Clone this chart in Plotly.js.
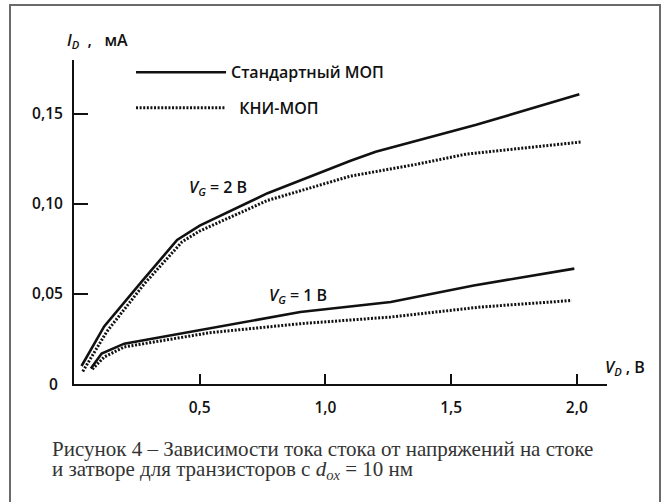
<!DOCTYPE html>
<html>
<head>
<meta charset="utf-8">
<script src="https://cdn.plot.ly/plotly-3.0.1.min.js"></script>
<style>
html,body{margin:0;padding:0;background:#fff;width:668px;height:502px;overflow:hidden;}
#frame{position:absolute;left:9px;top:4px;width:648px;height:600px;border:2px solid #6a6a6a;}
#plot{position:absolute;left:0;top:0;width:668px;height:502px;}
</style>
</head>
<body>
<div id="frame"></div>
<div id="plot"></div>
<script>
// V_G = 2 В
const xStd2 = [0.03, 0.12, 0.27, 0.41, 0.50, 0.77, 1.10, 1.20, 1.60, 2.01];
const yStd2 = [0.010, 0.032, 0.057, 0.080, 0.088, 0.106, 0.124, 0.129, 0.144, 0.161];
const xKni2 = [0.035, 0.13, 0.28, 0.43, 0.50, 0.77, 1.10, 1.36, 1.56, 2.02];
const yKni2 = [0.007, 0.029, 0.0557, 0.079, 0.085, 0.102, 0.1155, 0.122, 0.1277, 0.1345];
// V_G = 1 В
const xStd1 = [0.067, 0.11, 0.20, 0.54, 0.90, 1.26, 1.59, 1.99];
const yStd1 = [0.0086, 0.0169, 0.0224, 0.031, 0.040, 0.0456, 0.0547, 0.0641];
const xKni1 = [0.073, 0.12, 0.20, 0.54, 0.90, 1.26, 1.62, 1.98];
const yKni1 = [0.0082, 0.015, 0.0206, 0.0285, 0.0335, 0.0372, 0.0428, 0.0464];

const seriesNames = ['Стандартный МОП', '\u00a0\u00a0КНИ-МОП'];
const xTickVals = [0.5, 1.0, 1.5, 2.0];
const xTickText = ['0,5', '1,0', '1,5', '2,0'];
const yTickVals = [0.05, 0.10, 0.15];
const yTickText = ['0,05', '0,10', '0,15'];

const solid = {color: '#111', width: 2.6, dash: 'solid'};
const dotted = {color: '#111', width: 3, dash: '2px,1.6px'};
const tickFont = {family: 'Open Sans, sans-serif', size: 15.5, color: '#111', weight: 600};
const textFont = {family: 'Open Sans, sans-serif', size: 16, color: '#111', weight: 600};

const traces = [
  {x: xStd2, y: yStd2, mode: 'lines', line: solid, name: seriesNames[0], legend: 'legend', showlegend: true, hoverinfo: 'skip'},
  {x: xKni2, y: yKni2, mode: 'lines', line: dotted, name: seriesNames[1], legend: 'legend2', showlegend: true, hoverinfo: 'skip'},
  {x: xStd1, y: yStd1, mode: 'lines', line: solid, name: seriesNames[0], showlegend: false, hoverinfo: 'skip'},
  {x: xKni1, y: yKni1, mode: 'lines', line: dotted, name: seriesNames[1], showlegend: false, hoverinfo: 'skip'}
];

const legendBase = {
  xanchor: 'left', yanchor: 'middle', bgcolor: 'rgba(0,0,0,0)', borderwidth: 0,
  font: textFont, itemwidth: 90
};

const layout = {
  width: 668, height: 502,
  margin: {l: 74, r: 61, t: 60, b: 118},
  paper_bgcolor: 'rgba(0,0,0,0)',
  plot_bgcolor: 'rgba(0,0,0,0)',
  showlegend: true,
  legend: Object.assign({}, legendBase, {x: 0.107, y: 0.962}),
  legend2: Object.assign({}, legendBase, {x: 0.107, y: 0.852}),
  xaxis: {
    range: [0, 2.12], showgrid: false, zeroline: false, showline: true,
    linecolor: '#111', linewidth: 2,
    tickvals: xTickVals, ticktext: xTickText, ticks: 'inside', ticklen: 10,
    tickwidth: 2, tickcolor: '#111', tickfont: tickFont, ticklabelstandoff: 8
  },
  yaxis: {
    range: [0, 0.18], showgrid: false, zeroline: false, showline: true,
    linecolor: '#111', linewidth: 2,
    tickvals: yTickVals, ticktext: yTickText, ticks: 'inside', ticklen: 14,
    tickwidth: 2, tickcolor: '#111', tickfont: tickFont, ticklabelstandoff: 6
  },
  annotations: [
    {text: '0', xref: 'x', yref: 'y', x: 0, y: 0, xanchor: 'center', yanchor: 'middle',
     xshift: -21, showarrow: false, font: tickFont},
    {text: '<i>I</i><sub><i>D</i></sub>  ,   мА', xref: 'paper', yref: 'paper', x: 0, y: 1,
     xanchor: 'left', yanchor: 'bottom', xshift: -9, yshift: 6, showarrow: false, font: textFont},
    {text: '<i>V</i><sub><i>D</i></sub> , В', xref: 'paper', yref: 'y', x: 1, y: 0.0094,
     xanchor: 'left', yanchor: 'middle', xshift: -4, showarrow: false, font: textFont},
    {text: '<i>V</i><sub><i>G</i></sub> = 2 В', xref: 'x', yref: 'y', x: 0.574, y: 0.1094,
     xanchor: 'center', yanchor: 'middle', showarrow: false, font: textFont},
    {text: '<i>V</i><sub><i>G</i></sub> = 1 В', xref: 'x', yref: 'y', x: 0.889, y: 0.0489,
     xanchor: 'center', yanchor: 'middle', showarrow: false, font: textFont},
    {text: 'Рисунок 4 – Зависимости тока стока от напряжений на стоке', xref: 'paper', yref: 'paper',
     x: -0.045, y: -0.2, xanchor: 'left', yanchor: 'middle', showarrow: false,
     font: {family: 'Liberation Serif, serif', size: 21, color: '#333'}},
    {text: 'и затворе для транзисторов с <i>d</i><sub><i>ox</i></sub> = 10 нм', xref: 'paper', yref: 'paper',
     x: -0.045, y: -0.264, xanchor: 'left', yanchor: 'middle', showarrow: false,
     font: {family: 'Liberation Serif, serif', size: 21, color: '#333'}}
  ]
};

Plotly.newPlot('plot', traces, layout, {staticPlot: true, displayModeBar: false});
</script>
</body>
</html>
